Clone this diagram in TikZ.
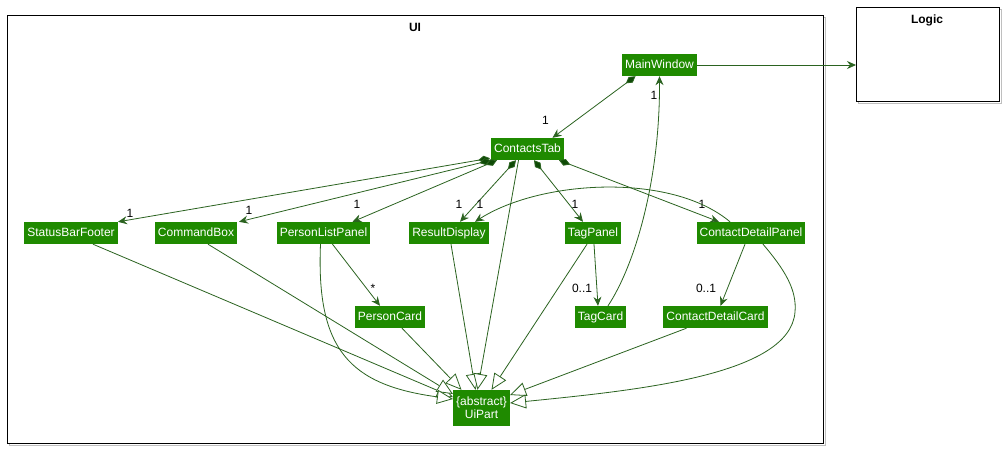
\documentclass[tikz,border=0pt]{standalone}
\usepackage{fontspec}
\setmainfont{Liberation Sans}
\usetikzlibrary{arrows.meta,calc}

\definecolor{clsfill}{HTML}{1F8A00}
\definecolor{clsline}{HTML}{2B6320}
\definecolor{dmdfill}{HTML}{0E4A06}

\tikzset{
  cls/.style={fill=clsfill, text=white, font=\fontsize{12}{13}\selectfont,
    inner xsep=3pt, inner ysep=0pt, text height=9pt, text depth=2.5pt, minimum height=22pt},
  pkg/.style={draw=black, line width=1pt, fill=white},
  pkgtitle/.style={font=\bfseries\fontsize{12}{13}\selectfont, inner sep=0pt},
  mult/.style={font=\fontsize{12}{13}\selectfont, text=black, inner sep=0pt},
  assoc/.style={draw=clsline, line width=0.8pt, -{Stealth[length=9pt,width=8pt,inset=3pt]}},
  comp/.style={assoc, {Diamond[length=12pt,width=7pt,fill=dmdfill]}-{Stealth[length=9pt,width=8pt,inset=3pt]}},
  gen/.style={draw=clsline, line width=0.8pt, -{Triangle[length=16pt,width=14pt,fill=white]}},
}

\begin{document}
\begin{tikzpicture}[x=1pt, y=-1pt]
    \useasboundingbox (0,0) rectangle (1003,448);

    % Packages
    \draw[gray!50, line width=1pt] (9,17) rectangle (825,445);
    \draw[pkg] (7,15) rectangle (823,443);
    \node[pkgtitle] (uiTitle) at (415,27) {UI};
    \draw[gray!50, line width=1pt] (858,9) rectangle (1001,103);
    \node[pkg, anchor=north west, minimum width=143pt, minimum height=94pt, inner sep=0pt] (logic) at (856,7) {};
    \node[pkgtitle] (logicTitle) at (927,20) {Logic};

    % Classes
    \node[cls] (mainWin) at (659.5,65) {MainWindow};
    \node[cls] (cTab) at (527.5,149) {ContactsTab};
    \node[cls] (sbFooter) at (71,233) {StatusBarFooter};
    \node[cls] (cmdBox) at (196,233) {CommandBox};
    \node[cls] (plPanel) at (323.5,233) {PersonListPanel};
    \node[cls] (resDisp) at (449,233) {ResultDisplay};
    \node[cls] (tagPanel) at (593,233) {TagPanel};
    \node[cls] (cdPanel) at (751,233) {ContactDetailPanel};
    \node[cls] (pCard) at (390,317) {PersonCard};
    \node[cls] (tagCard) at (600.5,317) {TagCard};
    \node[cls] (cdCard) at (715.5,317) {ContactDetailCard};
    \node[cls, align=center, text height=, text depth=, inner ysep=4pt, minimum height=36pt] (uiPart) at (481.5,408)
        {\{abstract\}\\UiPart};

    % Composition
    \draw[comp] ($(mainWin.south)+(-24,0)$) -- ($(cTab.north)+(25,0)$)
        node[mult, pos=1, xshift=-7pt, yshift=17pt] {1};
    \draw[comp] ($(cTab.south)+(-37.5,-2)$) -- ($(sbFooter.north)+(47,0)$)
        node[mult, pos=1, xshift=12pt, yshift=8pt] {1};
    \draw[comp] ($(cTab.south)+(-36.5,0)$) -- ($(cmdBox.north)+(43,0)$)
        node[mult, pos=1, xshift=10pt, yshift=11pt] {1};
    \draw[comp] ($(cTab.south)+(-30.5,0)$) -- ($(plPanel.north)+(29,0)$)
        node[mult, pos=1, xshift=4.5pt, yshift=17pt] {1};
    \draw[comp] ($(cTab.south)+(-11.5,0)$) -- ($(resDisp.north)+(11,0)$)
        node[mult, pos=1, xshift=-1pt, yshift=17pt] {1};
    \draw[comp] ($(cTab.south)+(6.5,0)$) -- ($(tagPanel.north)+(-10,0)$)
        node[mult, pos=1, xshift=-8pt, yshift=17pt] {1};
    \draw[comp] ($(cTab.south)+(31.5,0)$) -- ($(cdPanel.north)+(-32,0)$)
        node[mult, pos=1, xshift=-17pt, yshift=17pt] {1};

    % Association
    \draw[assoc] (mainWin.east) -- (mainWin.east -| logic.west);
    \draw[assoc] ($(cdPanel.north)+(-21,0)$) .. controls (671,172) and (540,180) .. ($(resDisp.north)+(26,0)$)
        node[mult, pos=1, xshift=5pt, yshift=17pt] {1};
    \draw[assoc] ($(tagCard.north)+(7.5,0)$) .. controls (635,265) and (660,180) .. (mainWin.south)
        node[mult, pos=1, xshift=-5.5pt, yshift=-19pt] {1};
    \draw[assoc] ($(tagPanel.south)+(1,0)$) -- ($(tagCard.north)+(-2.5,0)$)
        node[mult, pos=1, xshift=-16pt, yshift=17pt] {0..1};
    \draw[assoc] ($(cdPanel.south)+(-6,0)$) -- ($(cdCard.north)+(5,0)$)
        node[mult, pos=1, xshift=-14.5pt, yshift=17pt] {0..1};
    \draw[assoc] ($(plPanel.south)+(9,0)$) -- ($(pCard.north)+(-10,0)$)
        node[mult, pos=1, xshift=-7pt, yshift=17.5pt] {*};

    % Generalization
    \draw[gen] ($(sbFooter.south)+(22,0)$) -- ($(uiPart.west)+(0,-11)$);
    \draw[gen] ($(cmdBox.south)+(12,0)$) -- ($(uiPart.west)+(0,-14)$);
    \draw[gen] ($(plPanel.south)+(-3,0)$) .. controls (316,350) and (350,385) .. ($(uiPart.west)+(0,-9)$);
    \draw[gen] ($(pCard.south)+(12,0)$) -- ($(uiPart.north)+(-20,0)$);
    \draw[gen] ($(resDisp.south)+(2,0)$) -- ($(uiPart.north)+(-6,0)$);
    \draw[gen] ($(cTab.south)+(-9,0)$) -- ($(uiPart.north)+(-4,0)$);
    \draw[gen] ($(tagPanel.south)+(-6,0)$) -- ($(uiPart.north)+(10,0)$);
    \draw[gen] ($(cdCard.south)+(-29,0)$) -- ($(uiPart.east)+(0,-13)$);
    \draw[gen] ($(cdPanel.south)+(12,0)$) .. controls (785,270) and (797,290) .. (795,312)
        .. controls (790,375) and (640,390) .. ($(uiPart.east)+(0,-5)$);
\end{tikzpicture}
\end{document}
